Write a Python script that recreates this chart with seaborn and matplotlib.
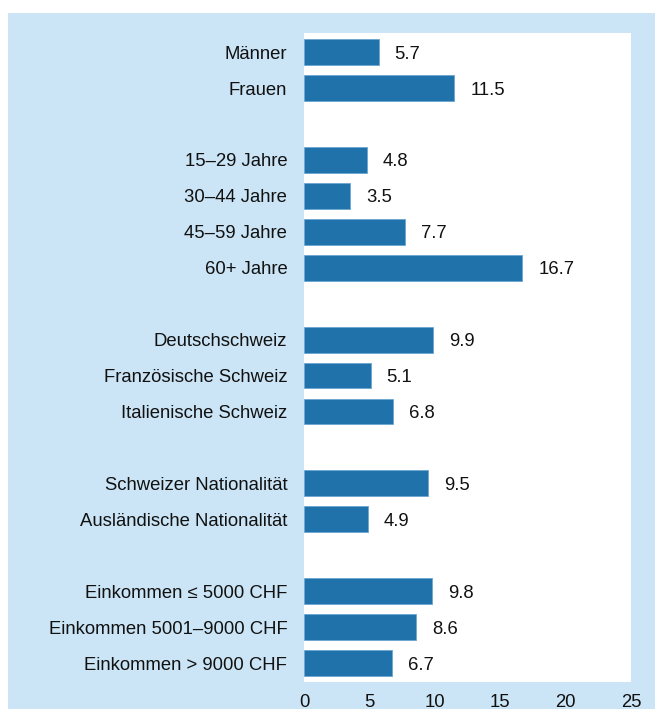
import pandas as pd
import seaborn as sns
import matplotlib.pyplot as plt
from matplotlib.patches import Rectangle

# groups of categories, blank slot between groups
groups = [
    ["Männer", "Frauen"],
    ["15–29 Jahre", "30–44 Jahre", "45–59 Jahre", "60+ Jahre"],
    ["Deutschschweiz", "Französische Schweiz", "Italienische Schweiz"],
    ["Schweizer Nationalität", "Ausländische Nationalität"],
    ["Einkommen ≤ 5000 CHF", "Einkommen 5001–9000 CHF", "Einkommen > 9000 CHF"],
]
values = [
    [5.7, 11.5],
    [4.8, 3.5, 7.7, 16.7],
    [9.9, 5.1, 6.8],
    [9.5, 4.9],
    [9.8, 8.6, 6.7],
]
xticks = [0, 5, 10, 15, 20, 25]

labels, vals, order = [], [], []
for i, (g, v) in enumerate(zip(groups, values)):
    if i > 0:
        order.append(" " * i)  # spacer slot
    labels += g
    vals += v
    order += g

df = pd.DataFrame({"label": labels, "value": vals})

sns.set_style("white")
plt.rcParams["font.family"] = ["Liberation Sans", "DejaVu Sans"]
fs = 13.3

fig = plt.figure(figsize=(6.55, 7.09), dpi=100)
fig.patches.append(Rectangle((8 / 655, 0), 1, 1 - 13 / 709, transform=fig.transFigure,
                             facecolor="#cbe5f6", edgecolor="none", zorder=-10))
ax = fig.add_axes([304 / 655, 1 - 681.7 / 709, 327 / 655, 649 / 709])
ax.set_facecolor("white")

sns.barplot(data=df, x="value", y="label", order=order, color="#1f73aa",
            saturation=1, width=0.72, edgecolor="#6aa6d0", linewidth=0.6, ax=ax)

for lab, v in zip(labels, vals):
    ax.annotate(f"{v:.1f}", (v, order.index(lab)), xytext=(11.5, 0), textcoords="offset points",
                va="center_baseline", ha="left", fontsize=fs, color="#111111")

ax.set_xlim(0, 25)
ax.set_ylim(17.52, -0.54)
ax.set_xticks(xticks)
ax.set_yticks(range(len(order)))
ax.set_yticklabels([o if o.strip() else "" for o in order], va="center_baseline")
ax.tick_params(axis="both", length=0, labelsize=fs, colors="#111111")
ax.tick_params(axis="y", pad=12)
ax.tick_params(axis="x", pad=8.5)
ax.set_xlabel("")
ax.set_ylabel("")
for s in ax.spines.values():
    s.set_visible(False)

plt.savefig("out.png", dpi=100)
